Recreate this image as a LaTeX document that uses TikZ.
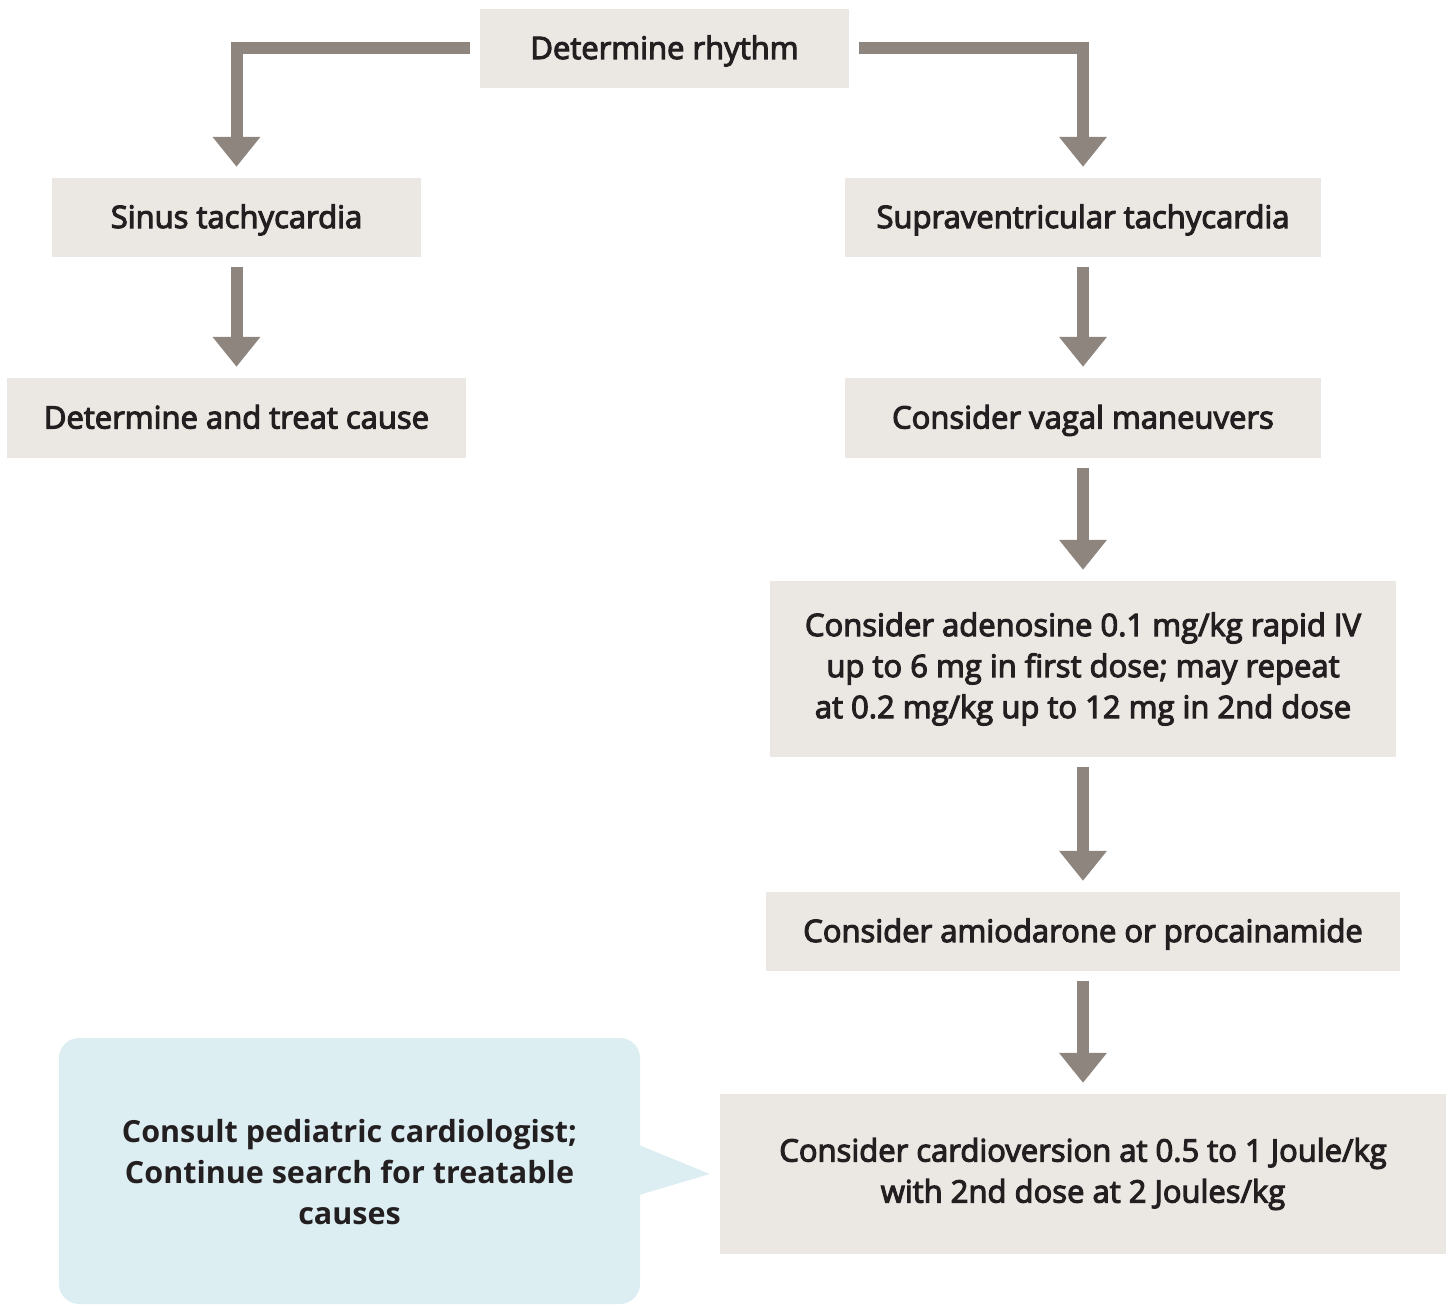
\documentclass[tikz,border=0pt]{standalone}
\usepackage{fontspec}
\setmainfont{Open Sans}
\newfontfamily\boxfont{Open Sans}[FakeBold=3.5]
\usetikzlibrary{arrows.meta}
\definecolor{boxfill}{HTML}{EBE7E3}
\definecolor{notefill}{HTML}{DDEEF3}
\definecolor{arrowgray}{HTML}{8E857F}
\definecolor{ink}{HTML}{231F20}
\begin{document}
\begin{tikzpicture}[x=1pt,y=-1pt,
  stepbox/.style={fill=boxfill, inner sep=0pt, align=center, text=ink,
    font=\boxfont\fontsize{31}{41}\selectfont},
  oneline/.style={text height=26pt, text depth=5pt},
  flow/.style={draw=arrowgray, line width=12pt,
    -{Triangle[width=46pt,length=30pt]}, shorten <=10pt, shorten >=11pt}]
\useasboundingbox (0,0) rectangle (1448,1306);

% process boxes
\node[stepbox, oneline, minimum width=369pt, minimum height=79pt] (rhythm) at (664.5,48.5) {Determine rhythm};
\node[stepbox, oneline, minimum width=369pt, minimum height=79pt] (sinus) at (236.5,217.5) {Sinus tachycardia};
\node[stepbox, oneline, minimum width=476pt, minimum height=79pt] (svt) at (1083,217.5) {Supraventricular tachycardia};
\node[stepbox, oneline, minimum width=459pt, minimum height=80pt] (cause) at (236.5,418) {Determine and treat cause};
\node[stepbox, oneline, minimum width=476pt, minimum height=80pt] (vagal) at (1083,418) {Consider vagal maneuvers};
\node[stepbox, minimum width=626pt, minimum height=176pt] (adeno) at (1083,669) {Consider adenosine 0.1 mg/kg rapid IV\\up to 6 mg in first dose; may repeat\\at 0.2 mg/kg up to 12 mg in 2nd dose};
\node[stepbox, oneline, minimum width=634pt, minimum height=79pt] (amio) at (1083,931.5) {Consider amiodarone or procainamide};
\node[stepbox, minimum width=726pt, minimum height=160pt] (cardio) at (1083,1174) {Consider cardioversion at 0.5 to 1 Joule/kg\\with 2nd dose at 2 Joules/kg};

% connectors
\draw[flow] (rhythm.west) -| (sinus.north);
\draw[flow] (rhythm.east) -| (svt.north);
\draw[flow] (sinus) -- (cause);
\draw[flow] (svt) -- (vagal);
\draw[flow] (vagal) -- (adeno);
\draw[flow] (adeno) -- (amio);
\draw[flow] (amio) -- (cardio);

% callout note pointing at the cardioversion box
\coordinate (tip) at ([xshift=-10pt]cardio.west);
\fill[notefill, rounded corners=20pt] (59,1038) rectangle (640,1304);
\fill[notefill] (639,1145) -- (tip) -- (639,1195) -- cycle;
\node[align=center, text=ink, font=\bfseries\fontsize{30.5}{41}\selectfont] (note) at (349.5,1172)
  {Consult pediatric cardiologist;\\Continue search for treatable\\causes};
\end{tikzpicture}
\end{document}
